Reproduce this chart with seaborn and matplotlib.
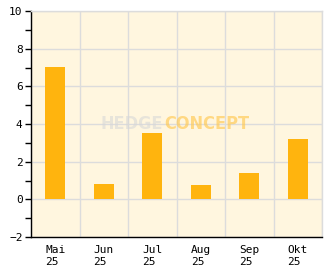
import numpy as np
import pandas as pd
import matplotlib
matplotlib.use("Agg")
import matplotlib.pyplot as plt
import seaborn as sns
from matplotlib.ticker import MultipleLocator, FixedLocator

categories = ["Mai\n25", "Jun\n25", "Jul\n25", "Aug\n25", "Sep\n25", "Okt\n25"]
values = [7.05, 0.8, 3.5, 0.75, 1.38, 3.2]

sns.set_theme(style="white")
plt.rcParams['font.family'] = ['DejaVu Sans Mono']

df = pd.DataFrame({"cat": categories, "val": values})

fig = plt.figure(figsize=(3.32, 2.69), dpi=100)
ax = fig.add_axes([31/332, 32/269, 291/332, 226/269])
ax.set_facecolor("#FFF6DF")

sns.barplot(data=df, x="cat", y="val", color="#FFB40E", width=0.41, ax=ax,
            saturation=1, linewidth=0, edgecolor="none", zorder=3)

ax.set_ylim(-2, 10)
ax.set_xlim(-0.5, len(categories) - 0.5)
ax.yaxis.set_major_locator(MultipleLocator(2))
ax.yaxis.set_minor_locator(MultipleLocator(1))
ax.xaxis.set_minor_locator(FixedLocator(np.arange(-0.5, len(categories), 1.0)))

ax.grid(False)
ax.grid(True, axis="y", which="major", color="#DCDCDC", linewidth=1, zorder=0)
ax.grid(True, axis="x", which="minor", color="#DCDCDC", linewidth=1, zorder=0)
ax.set_axisbelow(True)

ax.tick_params(axis="x", which="major", length=0, labelsize=8, pad=6, colors="black")
ax.tick_params(axis="x", which="minor", length=4, direction="in", width=1, color="black")
ax.tick_params(axis="y", which="major", length=4, direction="out", width=1, labelsize=8, pad=2, colors="black", left=True)
ax.tick_params(axis="y", which="minor", length=4, direction="out", width=1, color="black", left=True)
for lbl in ax.get_xticklabels():
    lbl.set_horizontalalignment("center")
    lbl.set_multialignment("left")

for s in ["left", "bottom"]:
    ax.spines[s].set_color("black")
    ax.spines[s].set_linewidth(1)
for s in ["top", "right"]:
    ax.spines[s].set_color("#DCDCDC")
    ax.spines[s].set_linewidth(1)

ax.set_xlabel("")
ax.set_ylabel("")

wm_x = (163.5 - 31) / 291
wm_y = (237 - 124) / 226
ax.text(wm_x, wm_y, "HEDGE", transform=ax.transAxes, ha="right", va="center",
        fontsize=13, fontweight="bold", family=["DejaVu Sans"], fontstretch="condensed",
        color="#D8D8D8", alpha=0.6, zorder=5)
ax.text(wm_x + 0.003, wm_y, "CONCEPT", transform=ax.transAxes, ha="left", va="center",
        fontsize=13, fontweight="bold", family=["DejaVu Sans"], fontstretch="condensed",
        color="#FFC850", alpha=0.65, zorder=5)

fig.savefig("out.png", dpi=100)
